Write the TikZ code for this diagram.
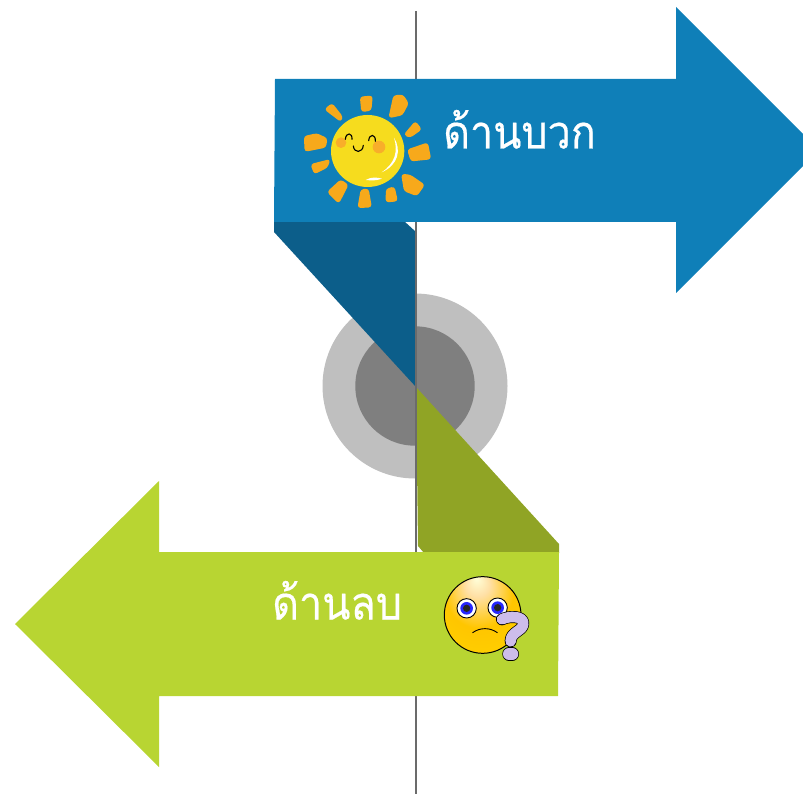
\documentclass[tikz,border=0pt]{standalone}
\usepackage{fontspec}
\usepackage{graphicx}
\newfontfamily\thaifont[Script=Thai,FakeBold=0.4]{Loma}
\usetikzlibrary{shadings}
\definecolor{bluemain}{HTML}{0F7FB8}
\definecolor{bluefold}{HTML}{0C5E8A}
\definecolor{greenmain}{HTML}{B8D532}
\definecolor{greenfold}{HTML}{90A425}
\definecolor{ringout}{HTML}{BFBFBF}
\definecolor{ringin}{HTML}{7F7F7F}
\definecolor{sunray}{HTML}{F7A91B}
\definecolor{sunface}{HTML}{F6DC1E}
\definecolor{cheek}{HTML}{F8AE2A}
\definecolor{qmark}{HTML}{CDBDEB}
\pgfdeclareradialshading{emoface}{\pgfpoint{-4bp}{24bp}}{
  color(0bp)=(white!85!yellow);
  color(8bp)=(yellow!30!orange!35!white);
  color(22bp)=(yellow!55!orange);
  color(50bp)=(yellow!70!orange)}
\tikzset{
  thailabel/.style={text=white,font=\thaifont\fontsize{41.3}{44}\selectfont,inner sep=0pt},
  rayshape/.style={fill=sunray,draw=sunray,line width=1.5pt,line join=round,rounded corners=2.5pt},
  zoomsun/.style={shift={(270,70)},x=0.3333pt,y=-0.3333pt},
  zoomemo/.style={shift={(260,530)},x=0.3333pt,y=-0.3333pt}
}
\begin{document}
\begin{tikzpicture}[x=1pt,y=-1pt]
\useasboundingbox (0,0) rectangle (803,794);
% rings
\fill[ringout] (415,386) circle (92.5);
\fill[ringin] (415,386) circle (59.7);
% folds
\fill[bluefold] (274,232) -- (416,387) -- (416,232) -- (404,221) -- (274,221) -- cycle;
\fill[greenfold] (416,387) -- (559,544) -- (559,553) -- (424,553) -- (418,546) -- cycle;
% axis
\draw[draw=black!58,line width=1.2pt] (416,11) -- (416,794);
% arrows
\fill[bluemain] (275,79) -- (676,79) -- (676,7) -- (803,134) -- (803,166) -- (676,293) -- (676,222) -- (274,222) -- cycle;
\fill[greenmain] (559,552) -- (159,552) -- (159,481) -- (15,624) -- (159,767) -- (159,696) -- (558,696) -- cycle;
% sun
\begin{scope}[zoomsun]
\foreach \r in {
 {(272,82) -- (306,79) -- (302,120) -- (276,124)},
 {(372,78) -- (398,76) -- (414,100) -- (396,134) -- (358,142)},
 {(166,118) -- (186,102) -- (216,140) -- (212,153)},
 {(104,200) -- (140,192) -- (170,206) -- (166,231) -- (106,243)},
 {(404,194) -- (436,156) -- (453,178) -- (420,201)},
 {(414,240) -- (472,220) -- (481,266) -- (424,272)},
 {(124,284) -- (179,270) -- (170,292) -- (134,310)},
 {(396,314) -- (420,316) -- (462,345) -- (440,376) -- (404,362)},
 {(174,366) -- (212,331) -- (233,345) -- (206,398)},
 {(274,360) -- (294,358) -- (303,410) -- (265,412)},
 {(350,358) -- (372,352) -- (381,392) -- (349,395)}}
 { \draw[rayshape] \r -- cycle; }
\fill[sunface] (293,243) ellipse (110 and 108);
\fill[cheek] (213,218) circle (16);
\fill[cheek] (327,231) circle (19);
\draw[black,line width=1.1pt,line cap=round] (226,208) .. controls (228,185) and (248,188) .. (246,208);
\draw[black,line width=1.1pt,line cap=round] (296,212) .. controls (298,190) and (318,192) .. (316,214);
\draw[black,line width=1.1pt,line cap=round] (250,228) .. controls (252,250) and (278,250) .. (280,226);
\fill[white] (372,203) .. controls (395,240) and (385,285) .. (335,307) .. controls (375,280) and (385,245) .. cycle;
\fill[white] (287,330) .. controls (305,320) and (320,322) .. (336,326) .. controls (320,332) and (305,332) .. cycle;
\end{scope}
% thinking face
\begin{scope}[zoomemo]
\shade[shading=emoface,draw=black,line width=1pt] (668,255) circle (115);
\foreach \ex/\ey in {620/235,713/233} {
  \fill[white,draw=black,line width=0.9pt] (\ex,\ey) ellipse (29 and 29);
  \fill[blue!85!white] (\ex,\ey) circle (19);
  \fill[black!85] (\ex,\ey) circle (11);
}
\draw[black,line width=0.9pt,line cap=round] (638,308) .. controls (660,292) and (690,292) .. (712,308);
\draw[black,line width=12pt,line cap=round,line join=round] (726,268) .. controls (745,258) and (790,256) .. (790,280) .. controls (790,304) and (752,304) .. (752,334);
\draw[black,line width=13.4pt,line cap=round,line join=round] (747,372) -- (757,372);
\draw[qmark,line width=10.6pt,line cap=round,line join=round] (726,268) .. controls (745,258) and (790,256) .. (790,280) .. controls (790,304) and (752,304) .. (752,334);
\draw[qmark,line width=12pt,line cap=round,line join=round] (747,372) -- (757,372);
\end{scope}
% labels
\node[thailabel,anchor=base west] (pos) at (443,148.5) {\scalebox{1}[1.12]{ด้านบวก}};
\node[thailabel,anchor=base west] (neg) at (272,619.5) {\scalebox{1}[1.12]{ด้านลบ}};
\end{tikzpicture}
\end{document}
